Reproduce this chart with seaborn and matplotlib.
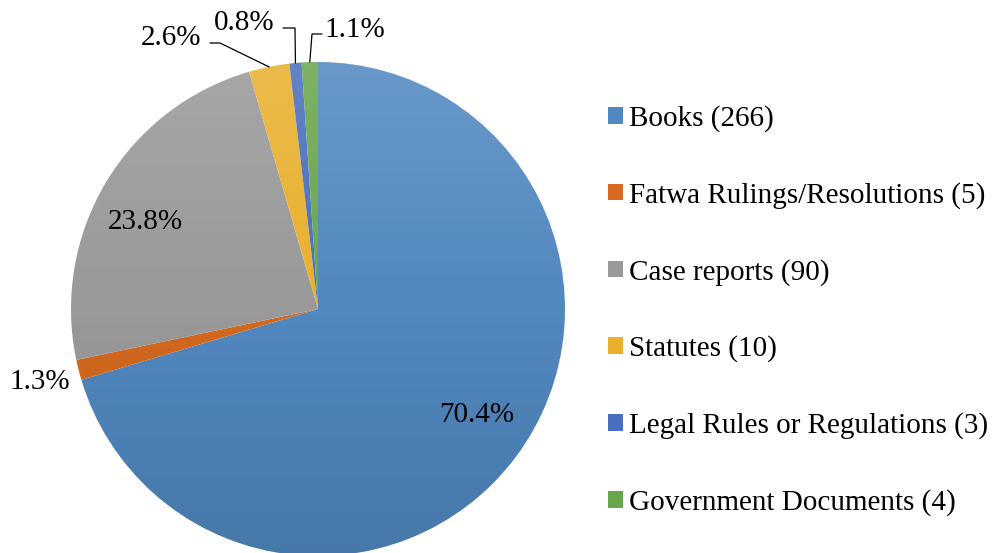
import matplotlib
matplotlib.use("Agg")
import matplotlib.pyplot as plt
import numpy as np
import seaborn as sns
from matplotlib.patches import Circle

# data
categories = ["Books", "Fatwa Rulings/Resolutions", "Case reports", "Statutes",
              "Legal Rules or Regulations", "Government Documents"]
counts = [266, 5, 90, 10, 3, 4]
colors = ["#5188C0", "#D4691F", "#999999", "#E9B02E", "#4A6FBE", "#68A64C"]

sns.set_style("white")
plt.rcParams['font.family'] = ['Liberation Serif', 'DejaVu Serif']
plt.rcParams['text.color'] = 'black'

W, H = 997, 553
fig = plt.figure(figsize=(W / 100, H / 100), dpi=100)
ax = fig.add_axes([0, 0, 1, 1])


def px(x, y):
    # pixel (top-left origin) -> data coords
    return x, H - y


cx, cy = px(318, 309)
r = 247
pal = sns.color_palette(colors)
wedges, _ = ax.pie(counts, colors=pal, startangle=90, counterclock=False,
                   center=(cx, cy), radius=r, frame=True,
                   wedgeprops=dict(linewidth=0))
ax.set_xlim(0, W)
ax.set_ylim(0, H)
ax.set_aspect("equal")
ax.axis("off")

# soft vertical shading like the office gradient fill
grad = np.zeros((200, 1, 4))
t = np.linspace(0, 1, 200)
grad[:, 0, :3] = np.where(t[:, None] < 0.5, 1.0, 0.0)
grad[:, 0, 3] = np.where(t < 0.5, 0.14 * (1 - 2 * t), 0.12 * (2 * t - 1))
im = ax.imshow(grad, extent=(cx - r, cx + r, cy - r, cy + r), aspect="auto",
               origin="upper", zorder=3)
im.set_clip_path(Circle((cx, cy), r, transform=ax.transData))

total = sum(counts)
pcts = [100 * c / total for c in counts]
cum = np.cumsum([0] + counts)
mids = [np.deg2rad(90 - 360 * (cum[i] + counts[i] / 2) / total) for i in range(len(counts))]

fs = 21
# labels inside / beside the pie (pixel positions)
label_pos = {0: (477, 415), 1: (40, 382), 2: (145, 222)}
for i, p in label_pos.items():
    ax.text(*px(*p), f"{pcts[i]:.1f}%", ha="center", va="center", fontsize=fs, zorder=5)

# small slices with leader lines: (text centre, elbow start, elbow end)
callouts = {3: ((171, 38), (210, 43), (220, 43)),
            4: ((244, 23), (283, 28), (295, 28)),
            5: ((355, 30), (322, 34), (312, 34))}
for i, (tpos, e1, e2) in callouts.items():
    ax.text(*px(*tpos), f"{pcts[i]:.1f}%", ha="center", va="center", fontsize=fs, zorder=5)
    ex, ey = cx + r * np.cos(mids[i]), cy + r * np.sin(mids[i])
    xs = [px(*e1)[0], px(*e2)[0], ex]
    ys = [px(*e1)[1], px(*e2)[1], ey]
    ax.plot(xs, ys, color="black", lw=0.9, zorder=5)

labels = [f"{c} ({n})" for c, n in zip(categories, counts)]
ax.legend(wedges, labels, loc="upper left", bbox_to_anchor=(608 / W, 1 - 105 / H),
          bbox_transform=fig.transFigure, frameon=False, fontsize=fs,
          labelspacing=1.71, handlelength=0.5, handleheight=0.5,
          handletextpad=0.22, borderpad=0, borderaxespad=0)

fig.savefig("out.png", dpi=100, facecolor="white")
